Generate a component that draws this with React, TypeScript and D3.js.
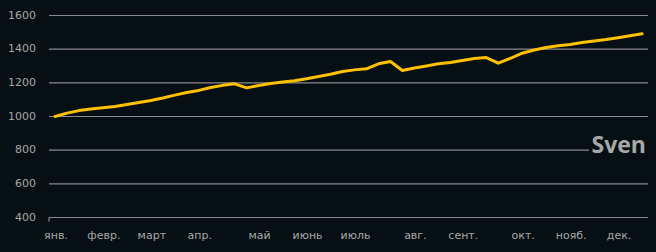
import React from "react";
import * as d3 from "d3";

const values: number[] = [
  1000, 1020, 1035, 1044, 1052, 1060, 1071, 1083, 1095, 1110,
  1127, 1143, 1155, 1172, 1185, 1194, 1170, 1184, 1196, 1205,
  1212, 1224, 1238, 1251, 1267, 1277, 1283, 1313, 1327, 1273,
  1288, 1300, 1313, 1321, 1333, 1344, 1350, 1317, 1345, 1376,
  1395, 1410, 1420, 1428, 1440, 1448, 1457, 1468, 1480, 1491,
];

const monthLabels: string[] = ["янв.", "февр.", "март", "апр.", "май", "июнь", "июль", "авг.", "сент.", "окт.", "нояб.", "дек."];
const monthIndex: number[] = [0, 4, 8, 12, 17, 21, 25, 30, 34, 39, 43, 47];
const yTicks: number[] = [400, 600, 800, 1000, 1200, 1400, 1600];
const seriesName = "Sven";

const W = 656;
const H = 252;
const BG = "#060f13";
const GRID = "#8a8a8a";
const TEXT = "#a8a8a8";

export default function App() {
  const idx = values.map((_, i) => i);
  const x = d3.scalePoint<number>().domain(idx).range([49, 648]).padding(0.5);
  const y = d3.scaleLinear().domain([400, 1600]).range([217.5, 15.5]);
  const line = d3
    .line<number>()
    .x((_, i) => x(i) as number)
    .y((d) => y(d));

  return (
    <svg
      width={W}
      height={H}
      style={{ position: "absolute", left: 0, top: 0, display: "block" }}
    >
      <rect x={0} y={0} width={W} height={H} fill={BG} />
      {yTicks.map((t) => (
        <g key={t}>
          <line x1={49} x2={648} y1={y(t)} y2={y(t)} stroke={GRID} strokeWidth={1.2} />
          <text
            x={36}
            y={y(t)}
            textAnchor="end"
            dominantBaseline="middle"
            fill={TEXT}
            fontFamily="DejaVu Sans"
            fontSize={11}
          >
            {t}
          </text>
        </g>
      ))}
      <line x1={49} x2={49} y1={y(400)} y2={y(400) + 4} stroke={GRID} strokeWidth={1.2} />
      {monthLabels.map((m, k) => (
        <text
          key={m}
          x={(x(monthIndex[k]) as number) + 1}
          y={239}
          textAnchor="middle"
          fill={TEXT}
          fontFamily="DejaVu Sans"
          fontSize={11}
        >
          {m}
        </text>
      ))}
      <path
        d={line(values) ?? ""}
        fill="none"
        stroke="#ffc000"
        strokeWidth={3}
        strokeLinejoin="round"
        strokeLinecap="round"
      />
      <rect x={589} y={y(800) - 4} width={60} height={8} fill={BG} />
      <text
        x={646}
        y={153}
        textAnchor="end"
        fill={TEXT}
        fontFamily="Open Sans"
        fontWeight={700}
        fontSize={23}
      >
        {seriesName}
      </text>
    </svg>
  );
}
